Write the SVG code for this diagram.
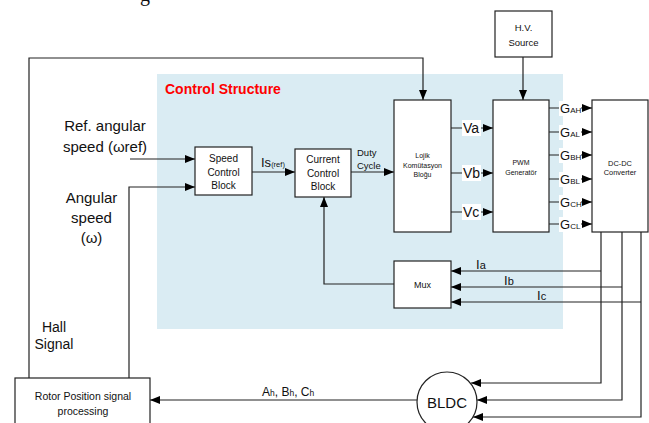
<svg xmlns="http://www.w3.org/2000/svg" width="649" height="423" viewBox="0 0 649 423">
<defs>
<marker id="arr" markerUnits="userSpaceOnUse" markerWidth="11" markerHeight="9" refX="10" refY="4" orient="auto">
<path d="M0,0 L10,4 L0,8 z" fill="#000"/>
</marker>
<style>
.box{fill:#fff;stroke:#222;stroke-width:1.2}
.ln{fill:none;stroke:#222;stroke-width:1.2}
.ar{fill:none;stroke:#222;stroke-width:1.2;marker-end:url(#arr)}
text{font-family:"Liberation Sans",Arial,sans-serif;fill:#111}
.c{text-anchor:middle}
.lbg{fill:#fff}
</style>
</defs>
<rect width="649" height="423" fill="#fff"/>
<text x="140" y="0.5" style="font-family:'Liberation Serif',serif;font-size:20px">g</text>
<rect id="control-structure" x="157" y="74" width="406" height="255" fill="#daecf3"/>
<text x="165" y="94" style="font-size:14px;font-weight:bold;fill:#f00">Control Structure</text>

<g id="connectors">
<polyline class="ar" points="29,378 29,58 423,58 423,100"/>
<line class="ar" x1="130" y1="159" x2="195" y2="159"/>
<polyline class="ar" points="129,378 129,187 195,187"/>
<line class="ar" x1="252" y1="172" x2="295" y2="172"/>
<line class="ar" x1="351" y1="172" x2="394" y2="172"/>
<polyline class="ar" points="394,284 324,284 324,197"/>
<line class="ar" x1="523" y1="57" x2="523" y2="100"/>
<line class="ar" x1="451" y1="128" x2="493" y2="128"/>
<line class="ar" x1="451" y1="173" x2="493" y2="173"/>
<line class="ar" x1="451" y1="212" x2="493" y2="212"/>
<line class="ar" x1="549" y1="108" x2="592" y2="108"/>
<line class="ar" x1="549" y1="132" x2="592" y2="132"/>
<line class="ar" x1="549" y1="155" x2="592" y2="155"/>
<line class="ar" x1="549" y1="179" x2="592" y2="179"/>
<line class="ar" x1="549" y1="202" x2="592" y2="202"/>
<line class="ar" x1="549" y1="224" x2="592" y2="224"/>
<polyline class="ar" points="601,232 601,383 471,383"/>
<polyline class="ar" points="622,232 622,400 477,400"/>
<polyline class="ar" points="641,232 641,417 473,417"/>
<line class="ar" x1="601" y1="271" x2="451" y2="271"/>
<line class="ar" x1="622" y1="287" x2="451" y2="287"/>
<line class="ar" x1="641" y1="302" x2="451" y2="302"/>
<line class="ar" x1="417" y1="400" x2="150" y2="400"/>
</g>

<g id="labels">
<text class="c" x="105" y="131" style="font-size:15px">Ref. angular</text>
<text class="c" x="105" y="152" style="font-size:15px">speed (ωref)</text>
<text class="c" x="91.5" y="203" style="font-size:15px">Angular</text>
<text class="c" x="91.5" y="223" style="font-size:15px">speed</text>
<text class="c" x="91.5" y="243" style="font-size:15px">(ω)</text>
<text class="c" x="54" y="332" style="font-size:14px">Hall</text>
<text class="c" x="54" y="349" style="font-size:14px">Signal</text>
<text x="261" y="167" style="font-size:13px">Is<tspan style="font-size:7.5px">(ref)</tspan></text>
<text x="357" y="156" style="font-size:9.5px">Duty</text>
<text x="357" y="169" style="font-size:9.5px">Cycle</text>
<rect class="lbg" x="462" y="120" width="19" height="16"/>
<text x="463" y="133" style="font-size:14px">Va</text>
<rect class="lbg" x="462" y="165" width="19" height="16"/>
<text x="463" y="178" style="font-size:14px">Vb</text>
<rect class="lbg" x="462" y="204" width="19" height="16"/>
<text x="463" y="217" style="font-size:14px">Vc</text>
<rect class="lbg" x="559" y="101" width="22" height="15"/>
<text x="560" y="113" style="font-size:13px">G<tspan style="font-size:8px">AH</tspan></text>
<rect class="lbg" x="559" y="125" width="22" height="15"/>
<text x="560" y="137" style="font-size:13px">G<tspan style="font-size:8px">AL</tspan></text>
<rect class="lbg" x="559" y="148" width="22" height="15"/>
<text x="560" y="160" style="font-size:13px">G<tspan style="font-size:8px">BH</tspan></text>
<rect class="lbg" x="559" y="172" width="22" height="15"/>
<text x="560" y="184" style="font-size:13px">G<tspan style="font-size:8px">BL</tspan></text>
<rect class="lbg" x="559" y="195" width="22" height="15"/>
<text x="560" y="207" style="font-size:13px">G<tspan style="font-size:8px">CH</tspan></text>
<rect class="lbg" x="559" y="217" width="22" height="15"/>
<text x="560" y="229" style="font-size:13px">G<tspan style="font-size:8px">CL</tspan></text>
<text x="476" y="269" style="font-size:13px">I<tspan style="font-size:11px">a</tspan></text>
<text x="504" y="285" style="font-size:13px">I<tspan style="font-size:11px">b</tspan></text>
<text x="537" y="300" style="font-size:13px">I<tspan style="font-size:11px">c</tspan></text>
<text x="262" y="396" style="font-size:12px">A<tspan style="font-size:8.5px">h</tspan>, B<tspan style="font-size:8.5px">h</tspan>, C<tspan style="font-size:8.5px">h</tspan></text>
</g>

<g id="speed-control">
<rect class="box" x="195" y="147" width="57" height="48"/>
<text class="c" x="223.5" y="162" style="font-size:10px">Speed</text>
<text class="c" x="223.5" y="175.5" style="font-size:10px">Control</text>
<text class="c" x="223.5" y="189" style="font-size:10px">Block</text>
</g>
<g id="current-control">
<rect class="box" x="295" y="149" width="56" height="48"/>
<text class="c" x="323" y="163" style="font-size:10px">Current</text>
<text class="c" x="323" y="176.5" style="font-size:10px">Control</text>
<text class="c" x="323" y="190" style="font-size:10px">Block</text>
</g>
<g id="lojik">
<rect class="box" x="394" y="100" width="57" height="132"/>
<text class="c" x="422.5" y="158" style="font-size:7px">Lojik</text>
<text class="c" x="422.5" y="167.5" style="font-size:7px">Komütasyon</text>
<text class="c" x="422.5" y="177" style="font-size:7px">Bloğu</text>
</g>
<g id="pwm">
<rect class="box" x="493" y="100" width="56" height="132"/>
<text class="c" x="521" y="165" style="font-size:7px">PWM</text>
<text class="c" x="521" y="174.5" style="font-size:7px">Generatör</text>
</g>
<g id="hv-source">
<rect class="box" x="495" y="11" width="57" height="46"/>
<text class="c" x="523.5" y="30.5" style="font-size:9.5px">H.V.</text>
<text class="c" x="523.5" y="46" style="font-size:9.5px">Source</text>
</g>
<g id="dcdc">
<rect class="box" x="592" y="100" width="56" height="132"/>
<text class="c" x="620" y="165.5" style="font-size:7.4px">DC-DC</text>
<text class="c" x="620" y="175" style="font-size:7.4px">Converter</text>
</g>
<g id="mux">
<rect class="box" x="394" y="261" width="57" height="47"/>
<text class="c" x="422.5" y="288" style="font-size:9px">Mux</text>
</g>
<g id="bldc">
<circle class="box" cx="447" cy="402" r="30"/>
<text class="c" x="447" y="407.5" style="font-size:15px">BLDC</text>
</g>
<g id="rotor-position">
<rect class="box" x="15" y="378" width="135" height="50"/>
<text class="c" x="83" y="400" style="font-size:10.5px">Rotor Position signal</text>
<text class="c" x="83" y="415" style="font-size:10.5px">processing</text>
</g>
</svg>
